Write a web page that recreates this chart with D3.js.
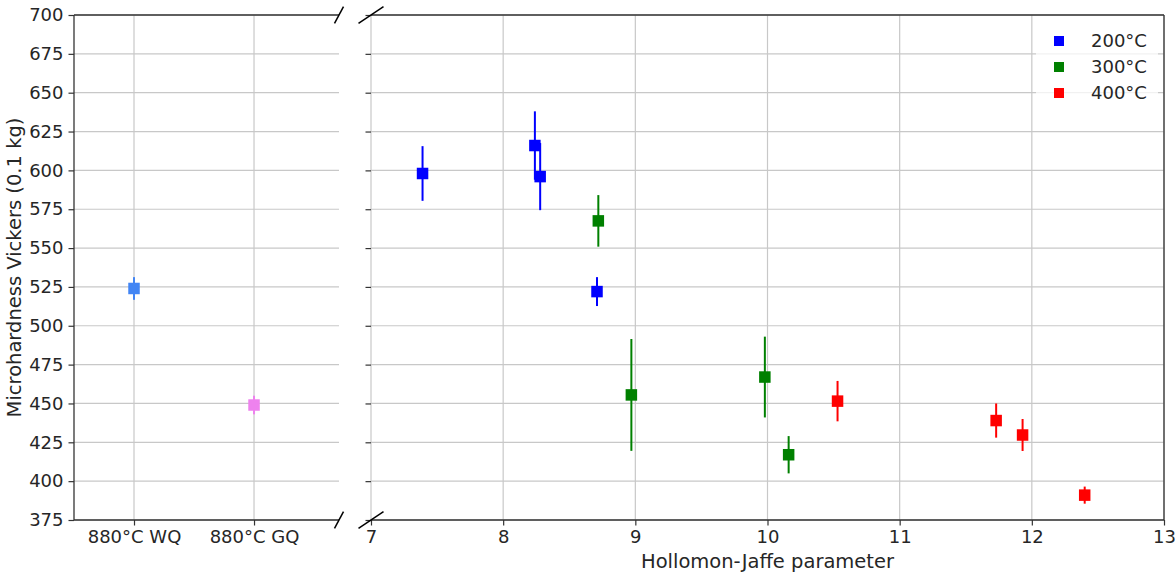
<!DOCTYPE html>
<html><head><meta charset="utf-8">
<script src="https://cdn.jsdelivr.net/npm/d3@7"></script>
<style>
body{margin:0;background:#fff;}
text{font-family:"DejaVu Sans",sans-serif;fill:#262626;}
</style></head>
<body><svg id="c" width="1176" height="572"></svg>
<script>
// Left panel: quench conditions
const quenchLabels = ["880°C WQ", "880°C GQ"];
const quenchValues = [524, 449];
const quenchErrors = [7.3, 6];
const quenchColors = ["#4285f4", "#ee82ee"];

// Right panel: tempering series (Hollomon-Jaffe parameter vs hardness)
const seriesNames = ["200°C", "300°C", "400°C"];
const seriesColors = ["#0000ff", "#008000", "#ff0000"];
const hj200 = [7.39, 8.24, 8.28, 8.71];
const hv200 = [598, 616, 596, 522];
const err200 = [17.6, 22, 21.6, 9.3];
const hj300 = [8.72, 8.97, 9.98, 10.16];
const hv300 = [567.5, 455.5, 467, 417];
const err300 = [16.6, 36, 26, 12];
const hj400 = [10.53, 11.73, 11.93, 12.40];
const hv400 = [451.5, 439, 429.7, 391];
const err400 = [13, 11, 10.3, 5.5];

const yTicks = [375, 400, 425, 450, 475, 500, 525, 550, 575, 600, 625, 650, 675, 700];
const xTicks = [7, 8, 9, 10, 11, 12, 13];

(function () {
const svg = d3.select("#c");
const yTop = 15, yBot = 520;
const L = {x0: 74, x1: 339};
const R = {x0: 371, x1: 1164};
const gridCol = "#c8c8c8", spineCol = "#333";
const fs = 18, fsLabel = 19.5;

const y = d3.scaleLinear().domain([375, 700]).range([yBot, yTop]);
const xL = d3.scaleLinear().domain([-0.5, 1.708]).range([L.x0, L.x1]);
const xR = d3.scaleLinear().domain([7, 13]).range([R.x0, R.x1]);

const series = [
  {name: seriesNames[0], color: seriesColors[0], x: hj200, y: hv200, e: err200},
  {name: seriesNames[1], color: seriesColors[1], x: hj300, y: hv300, e: err300},
  {name: seriesNames[2], color: seriesColors[2], x: hj400, y: hv400, e: err400},
];

// ---- grids ----
const gL = svg.append("g");
gL.selectAll("line.h").data(yTicks).join("line").attr("class","h")
  .attr("x1", L.x0).attr("x2", L.x1).attr("y1", d => y(d)).attr("y2", d => y(d))
  .attr("stroke", gridCol).attr("stroke-width", 1.2);
gL.selectAll("line.v").data([0, 1]).join("line").attr("class","v")
  .attr("x1", d => xL(d)).attr("x2", d => xL(d)).attr("y1", yTop).attr("y2", yBot)
  .attr("stroke", gridCol).attr("stroke-width", 1.2);

const gR = svg.append("g");
gR.selectAll("line.h").data(yTicks).join("line").attr("class","h")
  .attr("x1", R.x0).attr("x2", R.x1).attr("y1", d => y(d)).attr("y2", d => y(d))
  .attr("stroke", gridCol).attr("stroke-width", 1.2);
gR.selectAll("line.v").data(xTicks).join("line").attr("class","v")
  .attr("x1", d => xR(d)).attr("x2", d => xR(d)).attr("y1", yTop).attr("y2", yBot)
  .attr("stroke", gridCol).attr("stroke-width", 1.2);

// ---- axes ----
function styleAxis(g) {
  g.select(".domain").remove();
  g.selectAll(".tick line").attr("stroke", spineCol).attr("stroke-width", 1.2);
  g.selectAll(".tick text").attr("font-size", fs).attr("font-family", "DejaVu Sans").attr("fill", "#262626");
}
svg.append("g").attr("transform", `translate(${L.x0},0)`)
  .call(d3.axisLeft(y).tickValues(yTicks).tickSize(5.5).tickPadding(5)).call(styleAxis);
svg.append("g").attr("transform", `translate(${R.x0},0)`)
  .call(d3.axisLeft(y).tickValues(yTicks).tickSize(5.5).tickFormat("")).call(styleAxis);
svg.append("g").attr("transform", `translate(0,${yBot})`)
  .call(d3.axisBottom(xL).tickValues([0, 1]).tickFormat((d, i) => quenchLabels[i]).tickSize(5.5).tickPadding(5)).call(styleAxis);
svg.append("g").attr("transform", `translate(0,${yBot})`)
  .call(d3.axisBottom(xR).tickValues(xTicks).tickFormat(d3.format("d")).tickSize(5.5).tickPadding(5)).call(styleAxis);

// spines
const sp = svg.append("g").attr("stroke", spineCol).attr("stroke-width", 1.3).attr("fill", "none");
sp.append("line").attr("x1", L.x0).attr("x2", L.x0).attr("y1", yTop).attr("y2", yBot);
sp.append("line").attr("x1", L.x0).attr("x2", L.x1).attr("y1", yTop).attr("y2", yTop);
sp.append("line").attr("x1", L.x0).attr("x2", L.x1).attr("y1", yBot).attr("y2", yBot);
sp.append("line").attr("x1", R.x0).attr("x2", R.x1).attr("y1", yTop).attr("y2", yTop);
sp.append("line").attr("x1", R.x0).attr("x2", R.x1).attr("y1", yBot).attr("y2", yBot);
sp.append("line").attr("x1", R.x1).attr("x2", R.x1).attr("y1", yTop).attr("y2", yBot);

// break marks
const bk = svg.append("g").attr("stroke", "#000").attr("stroke-width", 1.5);
[yTop, yBot].forEach(yy => {
  bk.append("line").attr("x1", L.x1 - 4.5).attr("y1", yy + 8.3).attr("x2", L.x1 + 4.5).attr("y2", yy - 8.3);
  bk.append("line").attr("x1", R.x0 - 12.5).attr("y1", yy + 8.3).attr("x2", R.x0 + 12.5).attr("y2", yy - 8.3);
});

// ---- data ----
const ms = 11.5;
const dL = svg.append("g");
quenchValues.forEach((v, i) => {
  dL.append("line").attr("x1", xL(i)).attr("x2", xL(i))
    .attr("y1", y(v - quenchErrors[i])).attr("y2", y(v + quenchErrors[i]))
    .attr("stroke", quenchColors[i]).attr("stroke-width", 2);
  dL.append("rect").attr("x", xL(i) - ms/2).attr("y", y(v) - ms/2).attr("width", ms).attr("height", ms)
    .attr("fill", quenchColors[i]);
});

const dR = svg.append("g");
series.forEach(s => {
  s.x.forEach((xv, i) => {
    dR.append("line").attr("x1", xR(xv)).attr("x2", xR(xv))
      .attr("y1", y(s.y[i] - s.e[i])).attr("y2", y(s.y[i] + s.e[i]))
      .attr("stroke", s.color).attr("stroke-width", 2);
    dR.append("rect").attr("x", xR(xv) - ms/2).attr("y", y(s.y[i]) - ms/2).attr("width", ms).attr("height", ms)
      .attr("fill", s.color);
  });
});

// ---- legend ----
const lg = svg.append("g");
lg.append("rect").attr("x", 1036).attr("y", 22).attr("width", 122).attr("height", 88)
  .attr("fill", "#fff").attr("fill-opacity", 0.75);
series.forEach((s, i) => {
  const cy = 41 + i * 26;
  lg.append("rect").attr("x", 1059 - 5).attr("y", cy - 5).attr("width", 10).attr("height", 10).attr("fill", s.color);
  lg.append("text").attr("x", 1091).attr("y", cy).attr("dy", "0.35em").attr("font-size", fs).text(s.name);
});

// ---- labels ----
svg.append("text").attr("transform", `translate(21,${(yTop+yBot)/2}) rotate(-90)`)
  .attr("text-anchor", "middle").attr("font-size", fsLabel).text("Microhardness Vickers (0.1 kg)");
svg.append("text").attr("x", (R.x0 + R.x1)/2).attr("y", 568)
  .attr("text-anchor", "middle").attr("font-size", fsLabel).text("Hollomon-Jaffe parameter");
})();
</script></body></html>
